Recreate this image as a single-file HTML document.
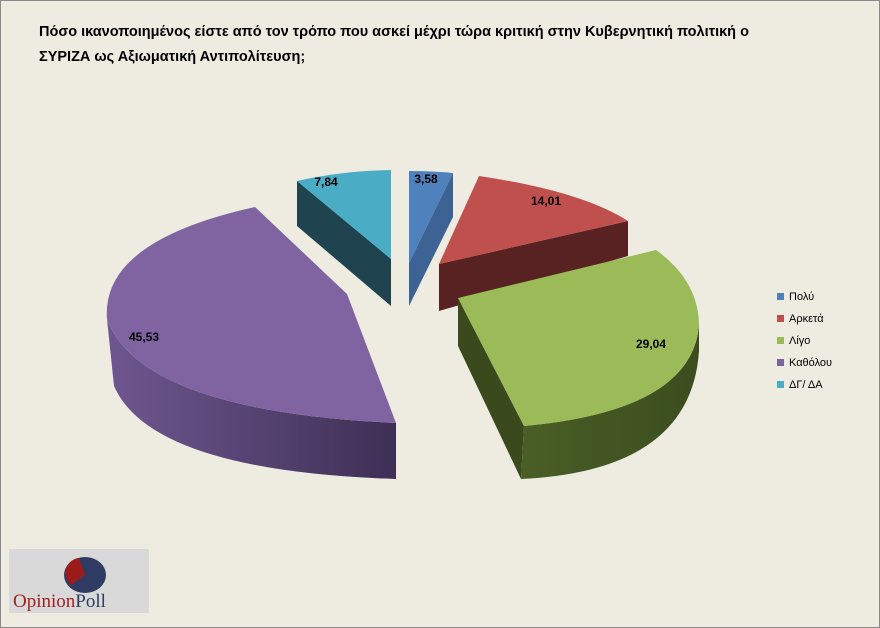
<!DOCTYPE html>
<html><head><meta charset="utf-8"><style>
body{margin:0;background:#fff}
#c{position:relative;width:878px;height:626px;background:#eeece1;border:1px solid #8a8a8a;overflow:hidden;font-family:"Liberation Sans",sans-serif}
.t{position:absolute;left:38px;top:19px;font-size:14.5px;font-weight:bold;line-height:25px;color:#000;width:800px}
.lg{position:absolute;left:776px;font-size:11px;color:#000}
.lg i{display:inline-block;width:7px;height:7px;margin-right:5px}
</style></head><body><div id="c">
<div class="t">Πόσο ικανοποιημένος είστε από τον τρόπο που ασκεί μέχρι τώρα κριτική στην Κυβερνητική πολιτική ο<br>ΣΥΡΙΖΑ ως Αξιωματική Αντιπολίτευση;</div>
<svg width="878" height="626" style="position:absolute;left:0;top:0">
<defs>
<linearGradient id="pg" x1="0" x2="1"><stop offset="0" stop-color="#6e578f"/><stop offset="1" stop-color="#3e2f55"/></linearGradient>
<linearGradient id="gg" x1="0" x2="1"><stop offset="0" stop-color="#4a5e26"/><stop offset="1" stop-color="#3b4d1e"/></linearGradient>
</defs>
<!-- purple -->
<path d="M106,318 Q140,410 395,422 L395,478 Q150,470 113,385 Z" fill="url(#pg)"/>
<path d="M254,206 L346,293 L395,422 Q140,410 106,318 Q100,240 254,206 Z" fill="#8064a2"/>
<!-- cyan -->
<path d="M296,180 L390,258 L390,305 L296,225 Z" fill="#1f4450"/>
<path d="M296,180 Q340,170 390,169 L390,258 Z" fill="#4bacc6"/>
<!-- blue -->
<path d="M452,172 L452,216 L408,305 L408,262 Z" fill="#3c6393"/>
<path d="M408,170 Q432,170 452,172 L408,262 Z" fill="#4f81bd"/>
<!-- red -->
<path d="M438,263 L627,220 L627,255 L438,310 Z" fill="#582222"/>
<path d="M478,175 Q580,190 627,220 L438,263 Z" fill="#c0504d"/>
<!-- green -->
<path d="M457,297 L523,425 L520,478 L457,345 Z" fill="#3a4a1c"/>
<path d="M698,325 Q690,410 523,425 L520,478 Q690,470 698,350 Z" fill="url(#gg)"/>
<path d="M457,297 L655,249 Q698,280 698,325 Q690,410 523,425 Z" fill="#9bbb59"/>
<g font-family="Liberation Sans" font-weight="bold" font-size="12" text-anchor="middle">
<text x="325" y="185">7,84</text><text x="425" y="182">3,58</text>
<text x="545" y="204">14,01</text><text x="650" y="347">29,04</text>
<text x="143" y="340">45,53</text></g>
</svg>
<div class="lg" style="top:290px"><i style="background:#4f81bd"></i>Πολύ</div>
<div class="lg" style="top:312px"><i style="background:#c0504d"></i>Αρκετά</div>
<div class="lg" style="top:334px"><i style="background:#9bbb59"></i>Λίγο</div>
<div class="lg" style="top:356px"><i style="background:#8064a2"></i>Καθόλου</div>
<div class="lg" style="top:378px"><i style="background:#4bacc6"></i>ΔΓ/ ΔΑ</div>
<div style="position:absolute;left:8px;top:548px;width:140px;height:64px;background:#d9d9d9">
<svg width="140" height="64" style="position:absolute;left:0;top:0">
<ellipse cx="76" cy="26" rx="21" ry="18" fill="#2f3b63"/>
<path d="M76,26 L70,9 Q60,10 56,22 Q57,32 62,36 Z" fill="#9b1b1b"/>
</svg>
<div style="position:absolute;left:4px;top:42px;font-family:'Liberation Serif',serif;font-size:19px"><span style="color:#a3201f">Opinion</span><span style="color:#2f3b63">Poll</span></div>
</div>
</div></body></html>
